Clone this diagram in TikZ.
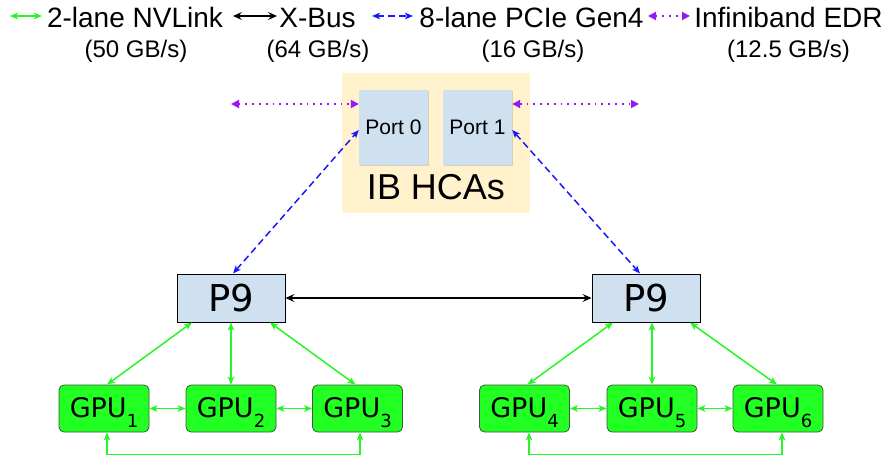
\documentclass[tikz,border=0pt]{standalone}
\usepackage{fontspec}
\setmainfont{Liberation Sans}
\newfontfamily\dejavu{DejaVu Sans}
\usetikzlibrary{arrows.meta,shadows}
\definecolor{nvg}{RGB}{40,245,40}
\definecolor{gpuf}{RGB}{34,255,34}
\definecolor{gpud}{RGB}{60,90,60}
\definecolor{pbox}{RGB}{207,224,240}
\definecolor{ibbg}{RGB}{255,242,204}
\definecolor{ibp}{RGB}{150,25,245}
\definecolor{pcb}{RGB}{25,25,255}
\begin{document}
\begin{tikzpicture}[x=1pt,y=-1pt,
  nv/.style={draw=nvg, line width=1.5pt, {Stealth[length=8pt,width=6.5pt,inset=2pt]}-{Stealth[length=8pt,width=6.5pt,inset=2pt]}},
  xbus/.style={draw=black, line width=1.8pt, {Stealth[length=9pt,width=8pt,inset=3.5pt]}-{Stealth[length=9pt,width=8pt,inset=3.5pt]}},
  pcie/.style={draw=pcb, line width=1.5pt, dash pattern=on 7pt off 4pt, {Stealth[length=8pt,width=6.5pt,inset=2pt]}-{Stealth[length=8pt,width=6.5pt,inset=2pt]}},
  ibl/.style={draw=ibp, line width=1.8pt, dash pattern=on 1.8pt off 5pt, {Triangle[length=8pt,width=8pt]}-{Triangle[length=8pt,width=8pt]}, ibp},
  legA/.style={anchor=base, inner sep=0pt, font=\fontsize{28}{30}\selectfont},
  legB/.style={anchor=base, inner sep=0pt, font=\fontsize{24}{26}\selectfont},
  port/.style={fill=pbox, minimum width=69pt, minimum height=75pt, inner sep=0pt,
    text height=15pt, text depth=0pt, font=\fontsize{21}{23}\selectfont,
    drop shadow={shadow xshift=1pt, shadow yshift=-1.2pt, fill=black!35, opacity=0.45}},
  p9/.style={draw=black, line width=1pt, fill=pbox, minimum width=108pt, minimum height=48pt,
    inner sep=0pt, text height=27pt, text depth=0pt, font=\dejavu\fontsize{37}{40}\selectfont},
  gpu/.style={draw=gpud, line width=0.8pt, fill=gpuf, rounded corners=5pt, minimum width=90pt,
    minimum height=47pt, inner sep=0pt, text height=20pt, text depth=3pt, font=\dejavu\fontsize{27}{30}\selectfont}
]
\newcommand{\gsub}[1]{\raisebox{-10pt}{\fontsize{18}{18}\selectfont #1}}
\useasboundingbox (0,0) rectangle (889,468);

% legend
\node[legA] (t1) at (135,28) {2-lane NVLink};
\node[legB] (t1b) at (136,58) {(50 GB/s)};
\node[legA] (t2) at (317.5,28) {X-Bus};
\node[legB] (t2b) at (318,58) {(64 GB/s)};
\node[legA] (t3) at (531.5,28) {8-lane PCIe Gen4};
\node[legB] (t3b) at (533,58) {(16 GB/s)};
\node[legA] (t4) at (788.5,28) {Infiniband EDR};
\node[legB] (t4b) at (788.5,58) {(12.5 GB/s)};
\coordinate (l1a) at (10,16); \coordinate (l1b) at (42,16);
\coordinate (l2a) at (233,16); \coordinate (l2b) at (277,16);
\coordinate (l3a) at (372,16); \coordinate (l3b) at (413,16);
\coordinate (l4a) at (648,16); \coordinate (l4b) at (690,16);
\draw[nv] (l1a) -- (l1b);
\draw[xbus] (l2a) -- (l2b);
\draw[pcie] (l3a) -- (l3b);
\draw[ibl] (l4a) -- (l4b);

% IB HCAs
\node[fill=ibbg, minimum width=188pt, minimum height=140pt, inner sep=0pt] (ib) at (436,143) {};
\node[port] (port0) at (393.5,127.5) {Port 0};
\node[port] (port1) at (477.5,127.5) {Port 1};
\node[anchor=base, inner sep=0pt, font=\fontsize{36}{38}\selectfont] (ibt) at (436,199) {IB HCAs};
\coordinate (ibL) at (231,104);
\coordinate (ibR) at (639,104);
\draw[ibl] (ibL) -- (ibL -| port0.west);
\draw[ibl] (ibR -| port1.east) -- (ibR);

% P9
\node[p9] (p9l) at (231,298) {P9};
\node[p9] (p9r) at (646,298) {P9};
\draw[pcie] ([xshift=2pt]p9l.north) -- ([yshift=-2.5pt]port0.west);
\draw[pcie] ([yshift=-2.5pt]port1.east) -- ([xshift=-6pt]p9r.north);
\draw[xbus] (p9l.east) -- (p9r.west);

% GPUs
\node[gpu] (g1) at (104,408.5) {GPU\gsub{1}};
\node[gpu] (g2) at (231,408.5) {GPU\gsub{2}};
\node[gpu] (g3) at (357.5,408.5) {GPU\gsub{3}};
\node[gpu] (g4) at (524.5,408.5) {GPU\gsub{4}};
\node[gpu] (g5) at (652,408.5) {GPU\gsub{5}};
\node[gpu] (g6) at (778,408.5) {GPU\gsub{6}};

\draw[nv] ([xshift=-39pt]p9l.south) -- ([xshift=3pt]g1.north);
\draw[nv] (p9l.south) -- (g2.north);
\draw[nv] ([xshift=39pt]p9l.south) -- ([xshift=-2pt]g3.north);
\draw[nv] ([xshift=-33pt]p9r.south) -- ([xshift=3pt]g4.north);
\draw[nv] ([xshift=6pt]p9r.south) -- (g5.north);
\draw[nv] ([xshift=44pt]p9r.south) -- ([xshift=-1pt]g6.north);

\draw[nv] (g1.east) -- (g2.west);
\draw[nv] (g2.east) -- (g3.west);
\draw[nv] (g4.east) -- (g5.west);
\draw[nv] (g5.east) -- (g6.west);
\draw[nv] ([xshift=3pt]g1.south) -- ++(0,22) -| ([xshift=2.5pt]g3.south);
\draw[nv] ([xshift=4.5pt]g4.south) -- ++(0,22) -| ([xshift=4pt]g6.south);
\end{tikzpicture}
\end{document}
